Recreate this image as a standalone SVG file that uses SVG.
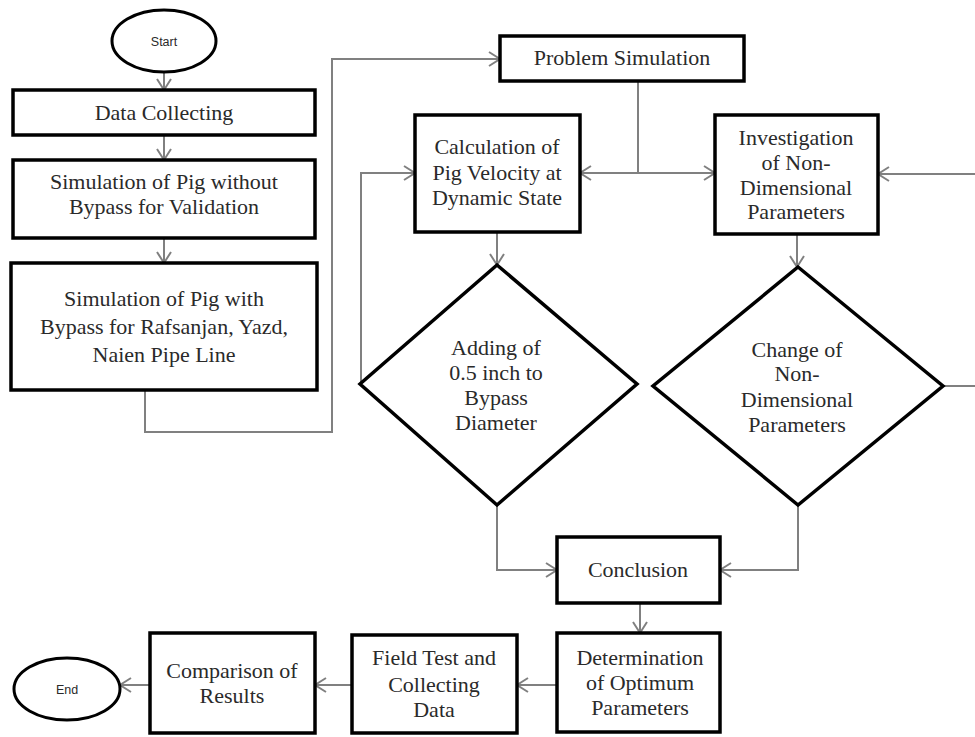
<svg xmlns="http://www.w3.org/2000/svg" width="975" height="737" viewBox="0 0 975 737">
<defs>
<marker id="arr" markerUnits="userSpaceOnUse" markerWidth="14" markerHeight="16" viewBox="0 0 14 16" refX="12" refY="8" orient="auto">
<path d="M1,1 L12,8 L1,15" fill="none" stroke="#808080" stroke-width="2"/>
</marker>
<style>
.box{fill:#fff;stroke:#000;stroke-width:3.5}
.t{font-size:22px;fill:#2a2a2a;text-anchor:middle}
.s{font-size:12.5px;fill:#2a2a2a;text-anchor:middle}
.c{fill:none;stroke:#808080;stroke-width:2}
.ca{fill:none;stroke:#808080;stroke-width:2;marker-end:url(#arr)}
</style>
</defs>
<rect width="975" height="737" fill="#fff"/>
<g id="connectors">
<line class="ca" x1="164" y1="72" x2="164" y2="90"/>
<line class="ca" x1="164" y1="135" x2="164" y2="160"/>
<line class="ca" x1="164" y1="238" x2="164" y2="263"/>
<polyline class="ca" points="145,390 145,432 332,432 332,59 500,59"/>
<polyline class="ca" points="361,384 361,173 415,173"/>
<line class="c" x1="638" y1="81" x2="638" y2="173"/>
<line class="ca" x1="638" y1="173" x2="580" y2="173"/>
<line class="ca" x1="638" y1="173" x2="715" y2="173"/>
<line class="ca" x1="975" y1="174" x2="878" y2="174"/>
<line class="c" x1="943" y1="386" x2="975" y2="386"/>
<line class="ca" x1="497" y1="232" x2="497" y2="265"/>
<line class="ca" x1="797" y1="234" x2="797" y2="267"/>
<polyline class="ca" points="497,505 497,570 557,570"/>
<polyline class="ca" points="798,505 798,570 720,570"/>
<line class="ca" x1="640" y1="603" x2="640" y2="633"/>
<line class="ca" x1="557" y1="685" x2="517" y2="685"/>
<line class="ca" x1="352" y1="685" x2="315" y2="685"/>
<line class="ca" x1="150" y1="685" x2="120" y2="685"/>
</g>
<g font-family="Liberation Sans, Arial, sans-serif">
<g id="start">
<ellipse cx="164" cy="41" rx="52" ry="31" fill="#fff" stroke="#000" stroke-width="3"/>
<text class="s" x="164" y="46">Start</text>
</g>
<g id="end">
<ellipse cx="67" cy="689" rx="53" ry="31" fill="#fff" stroke="#000" stroke-width="3"/>
<text class="s" x="67" y="694">End</text>
</g>
</g>
<g font-family="Liberation Serif, Times New Roman, serif">
<g id="data-collecting">
<rect class="box" x="13" y="90" width="302" height="45"/>
<text class="t" x="164" y="120">Data Collecting</text>
</g>
<g id="sim-without">
<rect class="box" x="13" y="160" width="302" height="78"/>
<text class="t" x="164" y="189">Simulation of Pig without</text>
<text class="t" x="164" y="214">Bypass for Validation</text>
</g>
<g id="sim-with">
<rect class="box" x="11" y="263" width="306" height="127"/>
<text class="t" x="164" y="306">Simulation  of Pig with</text>
<text class="t" x="164" y="334">Bypass for Rafsanjan, Yazd,</text>
<text class="t" x="164" y="362">Naien Pipe Line</text>
</g>
<g id="problem-simulation">
<rect class="box" x="500" y="36" width="244" height="45"/>
<text class="t" x="622" y="65">Problem Simulation</text>
</g>
<g id="calculation">
<rect class="box" x="415" y="115" width="165" height="117"/>
<text class="t" x="497" y="154">Calculation of</text>
<text class="t" x="497" y="180">Pig Velocity at</text>
<text class="t" x="497" y="205">Dynamic State</text>
</g>
<g id="investigation">
<rect class="box" x="715" y="115" width="163" height="119"/>
<text class="t" x="796" y="145">Investigation</text>
<text class="t" x="796" y="170">of Non-</text>
<text class="t" x="796" y="195">Dimensional</text>
<text class="t" x="796" y="219">Parameters</text>
</g>
<g id="adding">
<polygon points="497,265 637,384 497,505 360,384" fill="#fff" stroke="#000" stroke-width="3.5"/>
<text class="t" x="496" y="355">Adding of</text>
<text class="t" x="496" y="380">0.5 inch to</text>
<text class="t" x="496" y="405">Bypass</text>
<text class="t" x="496" y="430">Diameter</text>
</g>
<g id="change">
<polygon points="798,267 943,386 798,505 653,386" fill="#fff" stroke="#000" stroke-width="3.5"/>
<text class="t" x="797" y="357">Change of</text>
<text class="t" x="797" y="381">Non-</text>
<text class="t" x="797" y="407">Dimensional</text>
<text class="t" x="797" y="432">Parameters</text>
</g>
<g id="conclusion">
<rect class="box" x="557" y="537" width="163" height="66"/>
<text class="t" x="638" y="577">Conclusion</text>
</g>
<g id="determination">
<rect class="box" x="557" y="633" width="163" height="99"/>
<text class="t" x="640" y="665">Determination</text>
<text class="t" x="640" y="690">of Optimum</text>
<text class="t" x="640" y="715">Parameters</text>
</g>
<g id="field-test">
<rect class="box" x="352" y="635" width="165" height="98"/>
<text class="t" x="434" y="665">Field Test and</text>
<text class="t" x="434" y="692">Collecting</text>
<text class="t" x="434" y="717">Data</text>
</g>
<g id="comparison">
<rect class="box" x="150" y="633" width="165" height="100"/>
<text class="t" x="232" y="678">Comparison of</text>
<text class="t" x="232" y="703">Results</text>
</g>
</g>
</svg>
